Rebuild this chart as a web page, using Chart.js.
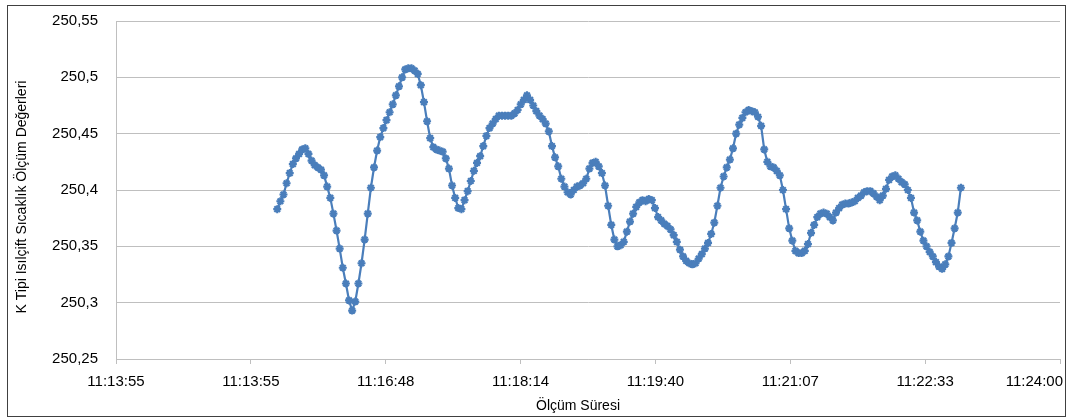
<!DOCTYPE html>
<html>
<head>
<meta charset="utf-8">
<title>K Tipi Isılçift Sıcaklık Ölçümü</title>
<script src="https://cdn.jsdelivr.net/npm/chart.js@4.4.1/dist/chart.umd.min.js"></script>
<style>
  html, body { margin: 0; padding: 0; background: #ffffff; }
  #wrap { position: relative; width: 1068px; height: 419px; }
</style>
</head>
<body>
<div id="wrap"><canvas id="c" width="1068" height="419"></canvas></div>
<script>
// Time of the first reading (seconds since midnight) and sampling interval
const sampleStart = 11 * 3600 + 15 * 60 + 38.5;
const sampleStep = 2;

// Thermocouple readings
const readings = [
  250.383, 250.390, 250.396, 250.406, 250.415, 250.423, 250.428, 250.432, 250.436, 250.437,
  250.432, 250.426, 250.422, 250.420, 250.418, 250.413, 250.403, 250.393, 250.379, 250.364,
  250.348, 250.331, 250.317, 250.302, 250.293, 250.301, 250.317, 250.335, 250.356, 250.379,
  250.402, 250.420, 250.435, 250.447, 250.455, 250.462, 250.469, 250.476, 250.484, 250.492,
  250.500, 250.507, 250.508, 250.508, 250.506, 250.503, 250.493, 250.478, 250.461, 250.446,
  250.438, 250.436, 250.435, 250.434, 250.428, 250.419, 250.404, 250.393, 250.384, 250.383,
  250.391, 250.399, 250.408, 250.417, 250.424, 250.430, 250.439, 250.448, 250.455, 250.459,
  250.463, 250.466, 250.466, 250.466, 250.466, 250.466, 250.468, 250.471, 250.476, 250.480,
  250.484, 250.480, 250.475, 250.470, 250.466, 250.463, 250.459, 250.452, 250.439, 250.429,
  250.421, 250.410, 250.403, 250.398, 250.396, 250.400, 250.403, 250.404, 250.406, 250.410,
  250.419, 250.424, 250.425, 250.421, 250.415, 250.404, 250.386, 250.369, 250.356, 250.350,
  250.351, 250.354, 250.363, 250.372, 250.379, 250.385, 250.389, 250.391, 250.390, 250.392,
  250.391, 250.384, 250.376, 250.373, 250.370, 250.368, 250.365, 250.360, 250.354, 250.347,
  250.341, 250.337, 250.335, 250.334, 250.335, 250.339, 250.343, 250.348, 250.353, 250.361,
  250.371, 250.386, 250.402, 250.412, 250.420, 250.427, 250.437, 250.450, 250.458, 250.464,
  250.469, 250.471, 250.470, 250.469, 250.465, 250.457, 250.436, 250.425, 250.421, 250.420,
  250.417, 250.413, 250.400, 250.383, 250.366, 250.355, 250.346, 250.344, 250.344, 250.346,
  250.352, 250.362, 250.369, 250.376, 250.379, 250.380, 250.379, 250.376, 250.373, 250.380,
  250.384, 250.387, 250.388, 250.388, 250.389, 250.390, 250.393, 250.395, 250.398, 250.399,
  250.399, 250.397, 250.394, 250.391, 250.395, 250.401, 250.409, 250.412, 250.413, 250.410,
  250.407, 250.405, 250.400, 250.393, 250.380, 250.373, 250.363, 250.355, 250.350, 250.345,
  250.341, 250.336, 250.332, 250.330, 250.334, 250.341, 250.353, 250.366, 250.380, 250.402
];

// Time axis ticks (seconds since midnight) and their labels
const xTickValues = [40435.2, 40521.6, 40608.0, 40694.4, 40780.8, 40867.2, 40953.6, 41040.0];
const xTickLabels = ['11:13:55', '11:13:55', '11:16:48', '11:18:14', '11:19:40', '11:21:07', '11:22:33', '11:24:00'];

// Value axis ticks and labels
const yTickValues = [250.25, 250.30, 250.35, 250.40, 250.45, 250.50, 250.55];
const yTickLabels = ['250,25', '250,3', '250,35', '250,4', '250,45', '250,5', '250,55'];

const xTitle = 'Ölçüm Süresi';
const yTitle = 'K Tipi Isılçift Sıcaklık Ölçüm Değerleri';

const points = readings.map((v, i) => ({ x: sampleStart + i * sampleStep, y: v }));

const lineBlue = '#4a7ebb';
const gridGrey = '#bfbfbf';
const fontFamily = '"Liberation Sans", Arial, sans-serif';

// Outer frame of the chart
const framePlugin = {
  id: 'frame',
  afterDraw(chart) {
    const ctx = chart.ctx;
    ctx.save();
    ctx.strokeStyle = '#404040';
    ctx.lineWidth = 1;
    ctx.strokeRect(7.5, 5.5, 1058, 411);
    ctx.restore();
  }
};

// Time labels under the axis (the last one kept inside the frame) and the axis titles
const axisTextPlugin = {
  id: 'axisText',
  afterDraw(chart) {
    const ctx = chart.ctx;
    const xs = chart.scales.x;
    ctx.save();
    ctx.font = '15px ' + fontFamily;
    ctx.fillStyle = '#000000';
    ctx.textAlign = 'center';
    ctx.textBaseline = 'middle';
    xTickValues.forEach((v, i) => {
      const label = xTickLabels[i];
      const w = ctx.measureText(label).width;
      let px = xs.getPixelForValue(v);
      if (px + w / 2 > 1063) px = 1063 - w / 2;
      ctx.fillText(label, px, 382);
    });

    ctx.font = '14px ' + fontFamily;
    ctx.fillText(xTitle, 578, 406);

    ctx.translate(22, 197);
    ctx.rotate(-Math.PI / 2);
    ctx.fillText(yTitle, 0, 0);
    ctx.restore();
  }
};

new Chart(document.getElementById('c'), {
  type: 'line',
  data: {
    datasets: [{
      data: points,
      borderColor: lineBlue,
      backgroundColor: lineBlue,
      borderWidth: 2.2,
      pointStyle: 'star',
      pointRadius: 4,
      pointBorderWidth: 2.2,
      pointBorderColor: lineBlue,
      pointBackgroundColor: lineBlue,
      tension: 0,
      fill: false
    }]
  },
  options: {
    responsive: false,
    animation: false,
    devicePixelRatio: 1,
    layout: { padding: { top: 21, right: 8, left: 0, bottom: 0 } },
    plugins: { legend: { display: false }, tooltip: { enabled: false } },
    scales: {
      x: {
        type: 'linear',
        min: xTickValues[0],
        max: xTickValues[xTickValues.length - 1],
        afterBuildTicks: s => { s.ticks = xTickValues.map(v => ({ value: v })); },
        afterFit: s => { s.height = 60; s.paddingLeft = 0; s.paddingRight = 0; },
        ticks: { display: false },
        grid: { drawOnChartArea: false, drawTicks: true, tickLength: 5, color: gridGrey },
        border: { display: true, color: gridGrey, width: 1 }
      },
      y: {
        min: yTickValues[0],
        max: yTickValues[yTickValues.length - 1],
        afterBuildTicks: s => { s.ticks = yTickValues.map(v => ({ value: v })); },
        afterFit: s => { s.width = 116; s.paddingTop = 0; s.paddingBottom = 0; },
        ticks: {
          callback: (v, i) => yTickLabels[i],
          color: '#000000',
          font: { family: fontFamily, size: 15 },
          padding: 18
        },
        grid: { color: gridGrey, drawTicks: false, lineWidth: 1 },
        border: { display: true, color: gridGrey, width: 1 }
      }
    }
  },
  plugins: [framePlugin, axisTextPlugin]
});
</script>
</body>
</html>
